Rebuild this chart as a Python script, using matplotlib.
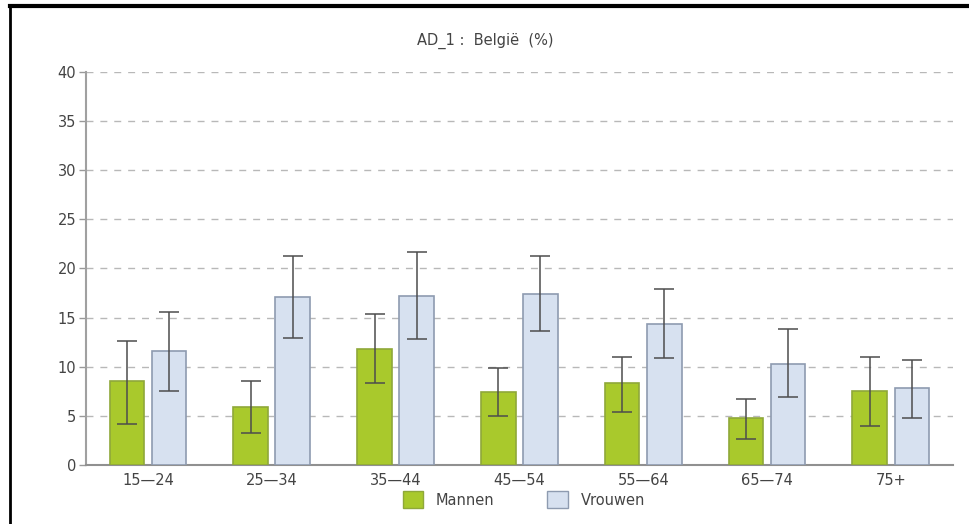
import numpy as np
import matplotlib.pyplot as plt
from matplotlib.lines import Line2D
from matplotlib.patches import Patch

# age groups and values (percent)
groups = ['15\u201424', '25\u201434', '35\u201444', '45\u201454', '55\u201464', '65\u201474', '75+']
mannen = [8.5, 5.9, 11.8, 7.4, 8.3, 4.8, 7.5]
mannen_lo = [4.2, 3.3, 8.3, 5.0, 5.4, 2.6, 4.0]
mannen_hi = [12.6, 8.5, 15.4, 9.9, 11.0, 6.7, 11.0]
vrouwen = [11.6, 17.1, 17.2, 17.4, 14.4, 10.3, 7.8]
vrouwen_lo = [7.5, 12.9, 12.8, 13.6, 10.9, 6.9, 4.8]
vrouwen_hi = [15.6, 21.3, 21.7, 21.3, 17.9, 13.8, 10.7]

plt.rcParams['font.family'] = ['DejaVu Sans']

green = '#a9c92c'
green_edge = '#8fa83a'
blue = '#d7e1f0'
blue_edge = '#8e9bb0'
err_col = '#4d4d4d'
txt = '#444444'
fs = 10.5

fig = plt.figure(figsize=(9.7, 5.24), dpi=100)
ax = fig.add_axes([0.0887, 0.1126, 0.8935, 0.75])

x = np.arange(len(groups))
w = 0.28
off = 0.17

m = np.array(mannen)
v = np.array(vrouwen)
m_err = [m - np.array(mannen_lo), np.array(mannen_hi) - m]
v_err = [v - np.array(vrouwen_lo), np.array(vrouwen_hi) - v]

ax.bar(x - off, m, w, color=green, edgecolor=green_edge, linewidth=1.2, zorder=3)
ax.bar(x + off, v, w, color=blue, edgecolor=blue_edge, linewidth=1.2, zorder=3)
ax.errorbar(x - off, m, yerr=m_err, fmt='none', ecolor=err_col, elinewidth=1.1,
            capsize=7, capthick=1.1, zorder=4)
ax.errorbar(x + off, v, yerr=v_err, fmt='none', ecolor=err_col, elinewidth=1.1,
            capsize=7, capthick=1.1, zorder=4)

ax.set_xlim(-0.5, 6.5)
ax.set_ylim(0, 40)
ax.set_yticks(np.arange(0, 41, 5))
ax.set_xticks(x)
ax.set_xticklabels(groups)
ax.tick_params(axis='y', length=5, width=1, color='#999999', labelsize=fs, labelcolor=txt, pad=2)
ax.tick_params(axis='x', length=0, labelsize=fs, labelcolor=txt, pad=6)

ax.yaxis.grid(True, linestyle=(0, (5, 5)), color='#b8b8b8', linewidth=1)
ax.set_axisbelow(True)
for s in ['top', 'right']:
    ax.spines[s].set_visible(False)
ax.spines['left'].set_color('#a0a0a0')
ax.spines['left'].set_linewidth(1.5)
ax.spines['bottom'].set_color('#909090')
ax.spines['bottom'].set_linewidth(1.5)

fig.text(0.5, 0.922, 'AD_1 :  Belgi\u00eb  (%)', ha='center', va='center', fontsize=fs, color=txt)

handles = [Patch(facecolor=green, edgecolor=green_edge), Patch(facecolor=blue, edgecolor=blue_edge)]
fig.legend(handles, ['Mannen', 'Vrouwen'], loc='center', bbox_to_anchor=(0.54, 0.046), ncol=2,
           frameon=False, fontsize=fs, handlelength=1.4, handleheight=1.4, handletextpad=0.9,
           columnspacing=3.6, labelcolor=txt)

# outer frame (top and left edges visible in the reference)
fig.add_artist(Line2D([0.0103, 1.0], [0.988, 0.988], color='black', linewidth=3, transform=fig.transFigure))
fig.add_artist(Line2D([0.0103, 0.0103], [0.0, 0.988], color='black', linewidth=2, transform=fig.transFigure))

fig.savefig('out.png', dpi=100)
